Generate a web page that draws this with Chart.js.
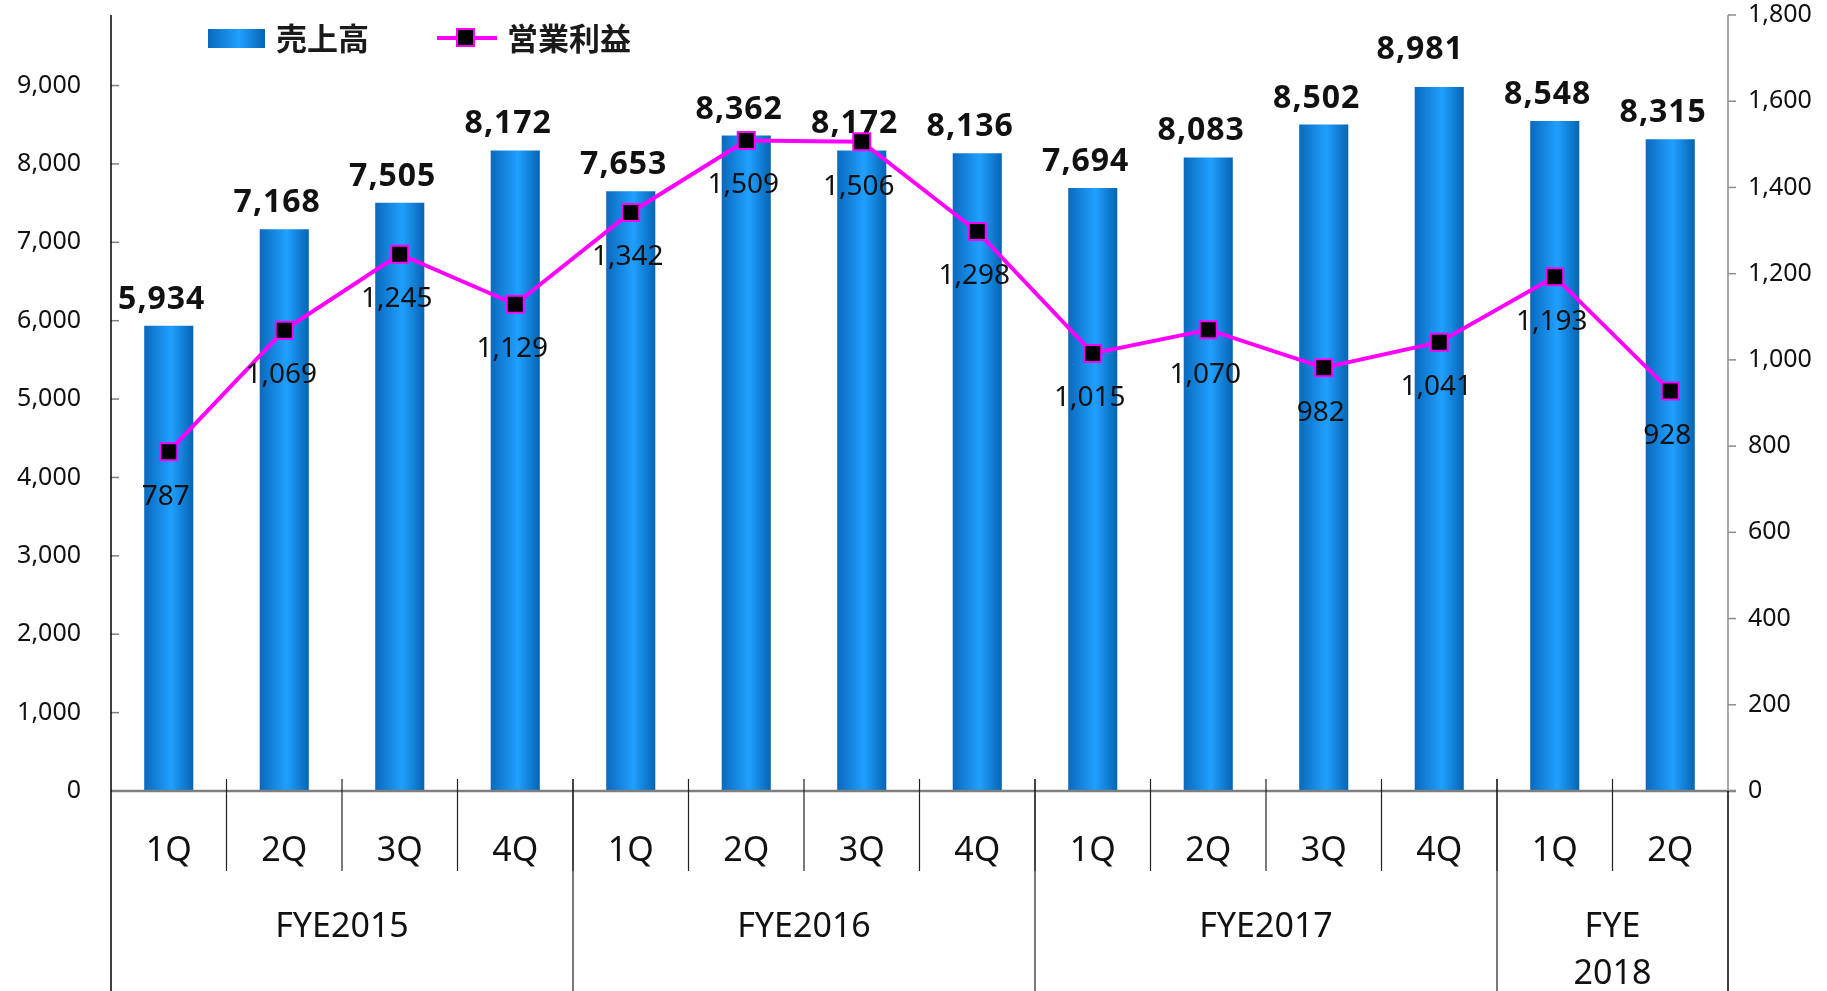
<!DOCTYPE html>
<html>
<head>
<meta charset="utf-8">
<script src="https://cdn.jsdelivr.net/npm/chart.js@4.4.1/dist/chart.umd.min.js"></script>
<style>
  html, body { margin: 0; padding: 0; background: #fff; }
  #chart { display: block; }
</style>
</head>
<body>
<canvas id="chart" width="1827" height="991"></canvas>
<script>
// Quarterly sales (売上高) and operating profit (営業利益)
const quarters = ['1Q', '2Q', '3Q', '4Q', '1Q', '2Q', '3Q', '4Q', '1Q', '2Q', '3Q', '4Q', '1Q', '2Q'];
const fiscalYears = ['FYE2015', 'FYE2016', 'FYE2017', 'FYE\n2018'];
const quartersPerYear = [4, 4, 4, 2];
const sales = [5934, 7168, 7505, 8172, 7653, 8362, 8172, 8136, 7694, 8083, 8502, 8981, 8548, 8315];
const operatingProfit = [787, 1069, 1245, 1129, 1342, 1509, 1506, 1298, 1015, 1070, 982, 1041, 1193, 928];
const salesTicks = [0, 1000, 2000, 3000, 4000, 5000, 6000, 7000, 8000, 9000];
const profitTicks = [0, 200, 400, 600, 800, 1000, 1200, 1400, 1600, 1800];

const MAGENTA = '#ff00ff';
const TEXT = '#111';
const fmt = v => v.toLocaleString('en-US');

// the tallest bar's label sits a bit higher/left in the original
const barLabelNudge = { 11: [-12, -11] };

function barGradient(ctx, left, right) {
  const g = ctx.createLinearGradient(left, 0, right, 0);
  g.addColorStop(0, '#0a69bd');
  g.addColorStop(0.55, '#20a0ff');
  g.addColorStop(1, '#0664b3');
  return g;
}

function line(ctx, x1, y1, x2, y2) {
  ctx.beginPath();
  ctx.moveTo(x1, y1);
  ctx.lineTo(x2, y2);
  ctx.stroke();
}

const decorations = {
  id: 'decorations',
  beforeDatasetDraw(chart, args) {
    if (args.index !== 0) return;
    args.meta.data.forEach(bar => {
      bar.options = Object.assign({}, bar.options, {
        backgroundColor: barGradient(chart.ctx, bar.x - bar.width / 2, bar.x + bar.width / 2)
      });
    });
  },
  afterDatasetDraw(chart, args) {
    const ctx = chart.ctx;
    const values = chart.data.datasets[args.index].data;
    ctx.save();
    ctx.fillStyle = TEXT;
    ctx.textAlign = 'center';
    ctx.textBaseline = 'alphabetic';
    if (args.index === 0) {
      ctx.font = "bold 32px 'Noto Sans'";
      if ('letterSpacing' in ctx) ctx.letterSpacing = '1px';
      args.meta.data.forEach((bar, i) => {
        const [dx, dy] = barLabelNudge[i] || [0, 0];
        ctx.fillText(fmt(values[i]), bar.x - 7 + dx, bar.y - 17 + dy);
      });
    } else {
      ctx.font = "28px 'Noto Sans'";
      args.meta.data.forEach((pt, i) => ctx.fillText(fmt(values[i]), pt.x - 3, pt.y + 53));
    }
    ctx.restore();
  },
  afterDatasetsDraw(chart) {
    const { ctx, chartArea: a, scales: { x, y, y1 } } = chart;
    const bottom = chart.height;
    ctx.save();

    // zero line
    ctx.strokeStyle = '#7f7f7f';
    ctx.lineWidth = 2.5;
    line(ctx, a.left, a.bottom, a.right + 8, a.bottom);

    // left axis + inner ticks
    ctx.lineWidth = 1.5;
    ctx.strokeStyle = '#808080';
    y.ticks.forEach(t => {
      const py = y.getPixelForValue(t.value);
      line(ctx, a.left, py, a.left + 8, py);
    });
    ctx.strokeStyle = '#000';
    line(ctx, a.left, a.top, a.left, bottom);

    // right axis + outer ticks
    ctx.strokeStyle = '#8c8c8c';
    line(ctx, a.right, a.top, a.right, a.bottom);
    y1.ticks.forEach(t => {
      const py = y1.getPixelForValue(t.value);
      line(ctx, a.right, py, a.right + 8, py);
    });
    ctx.strokeStyle = '#000';
    line(ctx, a.right, a.bottom, a.right, bottom);

    // category table
    const edge = i => i <= 0 ? a.left : i >= quarters.length ? a.right
      : (x.getPixelForValue(i - 1) + x.getPixelForValue(i)) / 2;
    ctx.strokeStyle = '#222';
    ctx.lineWidth = 1.2;
    ctx.fillStyle = TEXT;
    ctx.textAlign = 'center';
    ctx.textBaseline = 'alphabetic';
    ctx.font = "34px 'Noto Sans'";
    chart.data.labels.forEach((q, i) => {
      ctx.fillText(q, x.getPixelForValue(i), a.bottom + 70);
      if (i > 0) line(ctx, edge(i), a.bottom - 12, edge(i), a.bottom + 80);
    });
    let start = 0;
    fiscalYears.forEach((label, g) => {
      const end = start + quartersPerYear[g];
      if (start > 0) line(ctx, edge(start), a.bottom - 12, edge(start), bottom);
      const cx = (edge(start) + edge(end)) / 2;
      label.split('\n').forEach((part, k) => ctx.fillText(part, cx, a.bottom + 146 + k * 47));
      start = end;
    });

    // legend
    const ds = chart.data.datasets;
    ctx.fillStyle = barGradient(ctx, 208, 265);
    ctx.fillRect(208, 29, 57, 19);
    ctx.font = "bold 31px 'Noto Sans CJK JP'";
    ctx.fillStyle = '#1a1a1a';
    ctx.textAlign = 'left';
    ctx.textBaseline = 'middle';
    ctx.fillText(ds[0].label, 276, 38);
    ctx.strokeStyle = MAGENTA;
    ctx.lineWidth = 4;
    line(ctx, 437, 38, 497, 38);
    ctx.fillStyle = '#000';
    ctx.fillRect(457, 29, 17, 17);
    ctx.lineWidth = 2;
    ctx.strokeRect(457, 29, 17, 17);
    ctx.fillStyle = '#1a1a1a';
    ctx.fillText(ds[1].label, 507, 38);

    ctx.restore();
  }
};

Chart.defaults.font.family = "'Noto Sans', sans-serif";

new Chart(document.getElementById('chart'), {
  type: 'bar',
  data: {
    labels: quarters,
    datasets: [
      {
        label: '売上高',
        data: sales,
        yAxisID: 'y',
        backgroundColor: '#1487e6',
        borderWidth: 0,
        barPercentage: 0.425,
        categoryPercentage: 1.0,
        order: 1
      },
      {
        type: 'line',
        label: '営業利益',
        data: operatingProfit,
        yAxisID: 'y1',
        borderColor: MAGENTA,
        borderWidth: 4,
        tension: 0,
        pointStyle: 'rect',
        pointRadius: 12,
        pointBackgroundColor: '#000',
        pointBorderColor: MAGENTA,
        pointBorderWidth: 2,
        order: 0
      }
    ]
  },
  options: {
    responsive: false,
    animation: false,
    devicePixelRatio: 1,
    layout: { padding: { top: 15, left: 0, right: 0, bottom: 0 } },
    plugins: {
      legend: { display: false },
      tooltip: { enabled: false }
    },
    scales: {
      x: {
        offset: true,
        grid: { display: false, drawTicks: false },
        border: { display: false },
        ticks: { display: false },
        afterFit: axis => { axis.height = 200; }
      },
      y: {
        position: 'left',
        min: 0,
        max: 9900,
        grid: { display: false, drawTicks: false },
        border: { display: false },
        ticks: { padding: 30, color: TEXT, font: { size: 25 }, callback: v => fmt(v) },
        afterBuildTicks: axis => { axis.ticks = salesTicks.map(v => ({ value: v })); },
        afterFit: axis => { axis.width = 111; axis.paddingTop = 0; axis.paddingBottom = 0; }
      },
      y1: {
        position: 'right',
        min: 0,
        max: 1800,
        grid: { display: false, drawTicks: false },
        border: { display: false },
        ticks: { padding: 20, color: TEXT, font: { size: 25 }, callback: v => fmt(v) },
        afterBuildTicks: axis => { axis.ticks = profitTicks.map(v => ({ value: v })); },
        afterFit: axis => { axis.width = 99; axis.paddingTop = 0; axis.paddingBottom = 0; }
      }
    }
  },
  plugins: [decorations]
});
</script>
</body>
</html>
